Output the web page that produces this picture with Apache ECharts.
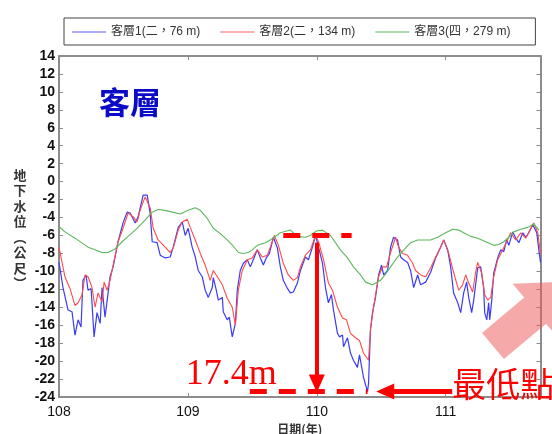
<!DOCTYPE html>
<html>
<head>
<meta charset="utf-8">
<script src="https://cdn.jsdelivr.net/npm/echarts@6/dist/echarts.min.js"></script>
<style>
  html, body { margin: 0; padding: 0; background: #fff; }
  #chart { width: 552px; height: 434px; }
</style>
</head>
<body>
<div id="chart"></div>
<script>
// Groundwater level (ft) of the three layers at the 客層 station, ROC years 108–111.
const seriesNames = ['客層1(二，76 m)', '客層2(二，134 m)', '客層3(四，279 m)'];

const layer1 = [
  [108.000,-9.0],[108.031,-11.8],[108.070,-14.3],[108.101,-14.5],[108.124,-17.1],[108.148,-15.4],
  [108.171,-16.2],[108.186,-11.0],[108.210,-10.4],[108.225,-12.1],[108.249,-11.9],[108.272,-17.3],
  [108.295,-14.6],[108.319,-15.8],[108.334,-11.8],[108.357,-15.1],[108.381,-12.4],[108.396,-10.6],
  [108.420,-9.5],[108.458,-6.7],[108.497,-4.6],[108.528,-3.4],[108.552,-3.5],[108.591,-4.6],
  [108.614,-3.9],[108.653,-1.5],[108.684,-1.5],[108.707,-3.5],[108.723,-6.7],[108.761,-6.8],
  [108.785,-8.2],[108.824,-8.5],[108.862,-8.4],[108.886,-7.3],[108.925,-5.1],[108.956,-4.5],
  [108.963,-4.6],[108.979,-6.0],[109.002,-5.2],[109.033,-7.3],[109.057,-8.4],[109.080,-9.9],
  [109.111,-10.6],[109.134,-12.1],[109.158,-12.9],[109.189,-11.8],[109.197,-10.7],[109.220,-12.1],
  [109.236,-13.2],[109.267,-12.9],[109.274,-14.5],[109.305,-15.4],[109.321,-15.1],[109.344,-17.3],
  [109.368,-15.8],[109.383,-12.1],[109.406,-9.9],[109.430,-9.1],[109.461,-8.7],[109.484,-9.5],
  [109.507,-8.7],[109.538,-7.6],[109.562,-8.5],[109.585,-9.3],[109.608,-8.5],[109.632,-8.0],
  [109.663,-6.2],[109.678,-6.0],[109.694,-7.4],[109.717,-9.5],[109.740,-11.0],[109.772,-11.9],
  [109.795,-12.4],[109.818,-12.3],[109.849,-11.3],[109.873,-9.9],[109.911,-8.4],[109.935,-8.7],
  [109.966,-7.3],[109.990,-6.0],[110.013,-7.3],[110.044,-9.1],[110.067,-11.8],[110.090,-13.5],
  [110.113,-12.6],[110.129,-14.3],[110.160,-16.9],[110.176,-17.3],[110.199,-17.1],[110.207,-18.4],
  [110.238,-17.4],[110.261,-19.1],[110.284,-19.9],[110.315,-20.7],[110.331,-19.3],[110.362,-21.8],
  [110.393,-23.4],[110.401,-22.5],[110.416,-16.5],[110.432,-14.6],[110.455,-12.9],[110.479,-10.4],
  [110.502,-9.3],[110.518,-10.4],[110.549,-9.9],[110.572,-7.3],[110.595,-6.2],[110.626,-6.5],
  [110.650,-8.4],[110.673,-8.7],[110.704,-9.0],[110.727,-9.9],[110.751,-11.8],[110.782,-10.4],
  [110.805,-11.5],[110.844,-11.2],[110.883,-10.1],[110.922,-8.5],[110.960,-7.3],[110.984,-6.5],
  [111.015,-7.6],[111.038,-9.5],[111.061,-12.4],[111.093,-13.5],[111.116,-14.6],[111.139,-12.4],
  [111.162,-11.2],[111.178,-12.9],[111.201,-14.6],[111.217,-13.2],[111.248,-9.6],[111.271,-9.5],
  [111.294,-11.8],[111.302,-14.6],[111.318,-15.4],[111.333,-13.5],[111.341,-15.4],[111.357,-13.2],
  [111.372,-10.2],[111.403,-8.5],[111.427,-7.6],[111.450,-7.8],[111.473,-6.5],[111.489,-7.1],
  [111.520,-5.6],[111.543,-6.3],[111.567,-6.8],[111.598,-5.7],[111.621,-6.2],[111.644,-5.7],
  [111.675,-4.8],[111.683,-4.6],[111.706,-5.7],[111.722,-7.6],[111.735,-9.0]
];

const layer2 = [
  [108.000,-7.3],[108.046,-10.6],[108.085,-11.9],[108.124,-13.8],[108.148,-13.5],[108.179,-12.6],
  [108.202,-10.4],[108.225,-10.6],[108.256,-11.8],[108.280,-14.0],[108.303,-12.4],[108.334,-13.4],
  [108.350,-11.2],[108.373,-12.1],[108.396,-11.0],[108.420,-9.3],[108.458,-6.7],[108.497,-5.2],
  [108.536,-3.5],[108.575,-3.9],[108.606,-4.5],[108.629,-3.2],[108.668,-1.7],[108.707,-2.9],
  [108.731,-5.2],[108.769,-6.5],[108.824,-7.3],[108.862,-7.9],[108.886,-7.4],[108.925,-5.4],
  [108.956,-4.5],[108.995,-4.2],[109.018,-5.1],[109.057,-6.5],[109.096,-8.0],[109.134,-9.3],
  [109.173,-11.0],[109.197,-9.9],[109.228,-10.6],[109.267,-11.5],[109.305,-13.0],[109.344,-14.0],
  [109.368,-16.0],[109.391,-12.1],[109.422,-9.9],[109.461,-8.7],[109.499,-8.5],[109.538,-7.6],
  [109.577,-8.4],[109.616,-8.2],[109.639,-7.3],[109.671,-6.0],[109.702,-7.1],[109.740,-9.1],
  [109.779,-10.4],[109.818,-11.0],[109.849,-10.7],[109.873,-9.5],[109.911,-8.2],[109.950,-7.6],
  [109.990,-6.0],[110.013,-6.7],[110.052,-8.7],[110.090,-11.3],[110.121,-12.1],[110.160,-14.0],
  [110.199,-15.2],[110.230,-15.4],[110.261,-16.9],[110.300,-17.4],[110.331,-17.7],[110.362,-19.1],
  [110.401,-19.9],[110.416,-16.5],[110.440,-14.0],[110.479,-10.6],[110.510,-9.5],[110.541,-9.5],
  [110.572,-7.9],[110.611,-6.2],[110.634,-7.3],[110.665,-8.0],[110.704,-8.2],[110.743,-9.1],
  [110.766,-9.9],[110.805,-10.4],[110.844,-10.6],[110.883,-9.6],[110.922,-8.4],[110.960,-7.3],
  [110.984,-6.5],[111.023,-8.0],[111.061,-10.1],[111.100,-12.1],[111.131,-11.5],[111.155,-10.4],
  [111.178,-11.3],[111.209,-12.3],[111.232,-10.1],[111.248,-9.0],[111.279,-10.2],[111.302,-12.6],
  [111.326,-13.2],[111.349,-12.9],[111.372,-10.6],[111.403,-8.7],[111.442,-7.6],[111.473,-6.7],
  [111.504,-5.7],[111.543,-6.5],[111.582,-5.7],[111.621,-6.3],[111.660,-5.2],[111.683,-4.6],
  [111.714,-5.7],[111.735,-8.0]
];

const layer3 = [
  [108.000,-5.0],[108.046,-5.6],[108.124,-6.3],[108.225,-7.3],[108.280,-7.6],[108.334,-7.9],
  [108.381,-7.9],[108.435,-7.5],[108.490,-6.7],[108.536,-6.1],[108.591,-5.4],[108.653,-4.5],
  [108.723,-3.4],[108.769,-3.1],[108.824,-3.2],[108.878,-3.4],[108.940,-3.6],[109.002,-3.2],
  [109.057,-2.9],[109.096,-3.2],[109.150,-4.1],[109.197,-5.2],[109.251,-5.8],[109.305,-6.5],
  [109.352,-7.2],[109.391,-7.9],[109.430,-8.0],[109.468,-7.9],[109.499,-7.6],[109.538,-7.1],
  [109.600,-6.8],[109.639,-6.5],[109.717,-5.7],[109.795,-5.4],[109.849,-6.1],[109.911,-6.2],
  [109.950,-6.0],[109.997,-5.5],[110.044,-5.4],[110.106,-6.0],[110.183,-7.6],[110.238,-8.5],
  [110.284,-9.5],[110.339,-10.4],[110.378,-11.2],[110.432,-11.5],[110.494,-11.0],[110.533,-10.3],
  [110.572,-9.5],[110.611,-8.7],[110.650,-8.0],[110.727,-6.8],[110.782,-6.5],[110.883,-6.5],
  [110.937,-6.2],[110.999,-5.7],[111.054,-5.3],[111.100,-5.4],[111.139,-5.7],[111.194,-6.1],
  [111.248,-6.3],[111.310,-6.7],[111.372,-7.1],[111.411,-7.0],[111.450,-6.7],[111.489,-6.2],
  [111.528,-5.6],[111.582,-5.3],[111.637,-5.1],[111.683,-4.7],[111.722,-5.4]
];

const xTicks = [108, 109, 110, 111];
const yTickStep = 2;

// Annotation: drop of layer 1 from the 110 high to its lowest level.
const peakTime = 110;
const peakLevel = Math.max(...layer1.filter(p => p[0] >= 109.9 && p[0] <= 110.1).map(p => p[1]));
const lowPoint = layer1.reduce((a, b) => (b[1] < a[1] ? b : a));
const dropText = (peakLevel - lowPoint[1]).toFixed(1) + 'm';

const X_MIN = 108, X_MAX = 111.735, Y_MIN = -24, Y_MAX = 14;
const frameColor = '#8c8c8c';
const red = '#ff0000';
const latin = 'Liberation Sans, Arial, sans-serif';
const cjk = '"Noto Sans CJK TC", "Noto Sans CJK SC", sans-serif';

const chart = echarts.init(document.getElementById('chart'), null, { renderer: 'canvas' });

function frameAxis(extra) {
  return Object.assign({
    axisLine: { show: true, onZero: false, lineStyle: { color: frameColor, width: 2 } },
    axisTick: { show: true, inside: true, length: 4, lineStyle: { color: frameColor, width: 1 } },
    splitLine: { show: false }
  }, extra);
}

const headOffset = 0.9; // arrow head half-length in axis units (vertical)

chart.setOption({
  animation: false,
  backgroundColor: '#fff',
  grid: { left: 59, right: 11.5, top: 56, bottom: 37, containLabel: false, outerBoundsMode: 'none' },
  legend: {
    data: seriesNames,
    left: 64, top: 18,
    padding: [8, 25, 7, 8],
    itemGap: 20,
    icon: 'rect',
    itemWidth: 34, itemHeight: 1.5,
    borderColor: '#444', borderWidth: 1,
    textStyle: { fontSize: 12, lineHeight: 12, color: '#333', fontFamily: latin + ', ' + cjk }
  },
  xAxis: [
    frameAxis({
      type: 'value', position: 'bottom', min: X_MIN, max: X_MAX, interval: 1,
      axisLabel: {
        fontSize: 14, color: '#111', fontFamily: latin, margin: 8,
        showMaxLabel: false,
        formatter: v => (xTicks.includes(v) ? String(v) : '')
      },
      name: '日期(年)', nameLocation: 'middle', nameGap: 24,
      nameTextStyle: { fontSize: 12, fontWeight: 'bold', color: '#333', fontFamily: cjk }
    }),
    frameAxis({
      type: 'value', position: 'top', min: X_MIN, max: X_MAX, interval: 1,
      axisLabel: { show: false }
    })
  ],
  yAxis: [
    frameAxis({
      type: 'value', position: 'left', min: Y_MIN, max: Y_MAX, interval: yTickStep,
      axisLabel: { fontSize: 14, fontWeight: 'bold', color: '#111', fontFamily: latin, margin: 4 }
    }),
    frameAxis({
      type: 'value', position: 'right', min: Y_MIN, max: Y_MAX, interval: yTickStep,
      axisLabel: { show: false }
    })
  ],
  series: [
    {
      name: seriesNames[0], type: 'line', data: layer1, symbol: 'none',
      lineStyle: { color: '#3b3bf5', width: 1.2 }, itemStyle: { color: '#8f8ff8' }
    },
    {
      name: seriesNames[1], type: 'line', data: layer2, symbol: 'none',
      lineStyle: { color: '#ff4a4a', width: 1.1 }, itemStyle: { color: '#ff9595' }
    },
    {
      name: seriesNames[2], type: 'line', data: layer3, symbol: 'none',
      lineStyle: { color: '#5cb85c', width: 1.1 }, itemStyle: { color: '#8fcf8f' },
      markLine: {
        silent: true, animation: false,
        symbol: 'none',
        label: { show: false },
        emphasis: { disabled: true },
        data: [
          // dashed level at the 110 high
          [
            { coord: [109.74, peakLevel], symbol: 'none', lineStyle: { color: red, width: 5, type: [17, 12] } },
            { coord: [110.27, peakLevel], symbol: 'none' }
          ],
          // dashed level at the lowest point
          [
            { coord: [109.48, lowPoint[1]], symbol: 'none', lineStyle: { color: red, width: 5, type: [17, 12] } },
            { coord: [lowPoint[0], lowPoint[1]], symbol: 'none' }
          ],
          // vertical drop arrow
          [
            { coord: [peakTime, peakLevel - 0.8], symbol: 'none', lineStyle: { color: red, width: 4, type: 'solid' } },
            { coord: [peakTime, lowPoint[1] + headOffset], symbol: 'triangle', symbolSize: [16, 18] }
          ],
          // arrow pointing at the lowest point
          [
            { coord: [111.05, lowPoint[1]], symbol: 'none', lineStyle: { color: red, width: 5, type: 'solid' } },
            { coord: [110.53, lowPoint[1]], symbol: 'triangle', symbolSize: [16, 18] }
          ]
        ]
      }
    }
  ]
});

// Text annotations anchored to the data positions above.
const pPeak = chart.convertToPixel({ gridIndex: 0 }, [peakTime, lowPoint[1]]);
const pArrow = chart.convertToPixel({ gridIndex: 0 }, [111.05, lowPoint[1]]);

// Block arrow (decoration) towards the lower-right corner.
const ang = 40 * Math.PI / 180;
const u = [Math.cos(ang), -Math.sin(ang)], n = [Math.sin(ang), Math.cos(ang)];
const S = [493, 346];
const H = [S[0] + 55 * u[0], S[1] + 55 * u[1]];
const T = [H[0] + 45 * u[0], H[1] + 45 * u[1]];
const pt = (P, k) => [P[0] + k * n[0], P[1] + k * n[1]];
const blockArrow = [pt(S, -17), pt(H, -17), pt(H, -35), T, pt(H, 35), pt(H, 17), pt(S, 17)];

chart.setOption({
  graphic: [
    {
      type: 'text', left: 99, top: 87, z: 10,
      style: { text: '客層', fill: '#0a0ac8', font: 'bold 31px ' + cjk }
    },
    {
      type: 'text', x: 20, y: 229, z: 10,
      style: {
        text: '地\n下\n水\n位\n︵\n公\n尺\n︶',
        fill: '#333', font: 'bold 13px ' + cjk, lineHeight: 15.5,
        align: 'center', verticalAlign: 'middle'
      }
    },
    {
      type: 'text', x: pPeak[0] - 40, y: pPeak[1] - 17, z: 10,
      style: {
        text: dropText, fill: red, font: '36px "Liberation Serif", "Times New Roman", serif',
        align: 'right', verticalAlign: 'middle'
      }
    },
    {
      type: 'text', x: pArrow[0] + 0, y: pArrow[1] - 8, z: 10,
      style: { text: '最低點', fill: red, font: '34px ' + cjk, align: 'left', verticalAlign: 'middle' }
    },
    {
      type: 'polygon', z: 20,
      shape: { points: blockArrow },
      style: { fill: 'rgba(236, 84, 84, 0.5)' }
    }
  ]
});
</script>
</body>
</html>
